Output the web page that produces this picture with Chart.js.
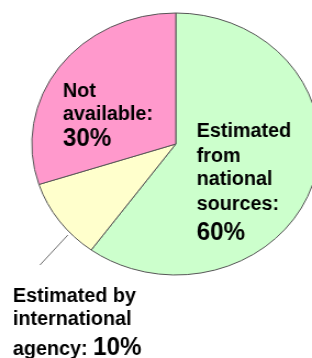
<!DOCTYPE html>
<html>
<head>
<meta charset="utf-8">
<script src="https://cdn.jsdelivr.net/npm/chart.js@4.4.0/dist/chart.umd.min.js"></script>
<style>
html, body { margin: 0; padding: 0; background: #fff; overflow: hidden; }
/* the original picture is stretched a little sideways, so the pie is an ellipse */
#wrap { width: 284px; height: 358px; transform: scaleX(1.0986); transform-origin: 0 0; }
</style>
</head>
<body>
<div id="wrap"><canvas id="pieChart" width="284" height="358"></canvas></div>
<script>
var categories = ['Estimated from national sources', 'Estimated by international agency', 'Not available'];
var shares = [60, 10, 30];
var sliceColors = ['#CCFFCC', '#FFFFCC', '#FF99CC'];
var labelLines = [
    ['Estimated', 'from', 'national', 'sources:'],
    ['Estimated by', 'international', 'agency: '],
    ['Not', 'available:']
];

// label anchors in units of the pie radius, from the pie centre
var labelPos = [
    { dx: 0.145, dy: -0.053, rows: [0, 25, 48, 73, 103], inline: false },
    { dx: -1.131, dy: 1.206, rows: [0, 23, 53], inline: true },
    { dx: -0.784, dy: -0.359, rows: [0, 23, 49], inline: false }
];
var leader = [-0.750, 0.695, -0.944, 0.924];

var textFont = 'bold 18px "Liberation Sans", Arial, sans-serif';
var pctFont = 'bold 22px "Liberation Sans", Arial, sans-serif';

// text in the original is a bit taller than it is wide
function tallText(ctx, t, x, y, sy) {
    ctx.save();
    ctx.translate(x, y);
    ctx.scale(1, sy);
    ctx.fillText(t, 0, 0);
    ctx.restore();
}

var sliceLabels = {
    id: 'sliceLabels',
    afterDatasetsDraw: function(chart) {
        var arc = chart.getDatasetMeta(0).data[0];
        var cx = arc.x, cy = arc.y, r = arc.outerRadius;
        var ctx = chart.ctx;
        ctx.save();

        ctx.strokeStyle = '#707070';
        ctx.lineWidth = 1;
        ctx.beginPath();
        ctx.moveTo(cx + leader[0] * r, cy + leader[1] * r);
        ctx.lineTo(cx + leader[2] * r, cy + leader[3] * r);
        ctx.stroke();

        ctx.fillStyle = '#000';
        ctx.textBaseline = 'alphabetic';
        ctx.textAlign = 'left';
        labelLines.forEach(function(lines, i) {
            var p = labelPos[i];
            var x = cx + p.dx * r, y = cy + p.dy * r;
            ctx.font = textFont;
            lines.forEach(function(t, j) {
                tallText(ctx, t, x, y + p.rows[j], 1.08);
            });
            var pct = shares[i] + '%';
            if (p.inline) {
                var last = lines.length - 1;
                var w = ctx.measureText(lines[last]).width;
                ctx.font = pctFont;
                tallText(ctx, pct, x + w, y + p.rows[last], 1.2);
            } else {
                ctx.font = pctFont;
                tallText(ctx, pct, x, y + p.rows[lines.length], 1.2);
            }
        });
        ctx.restore();
    }
};

var ctx = document.getElementById('pieChart').getContext('2d');
var myChart = new Chart(ctx, {
    type: 'pie',
    data: {
        labels: categories,
        datasets: [{
            data: shares,
            backgroundColor: sliceColors,
            borderColor: '#555555',
            borderWidth: 1,
            radius: 131,
            offset: 0,
            hoverOffset: 0,
            clip: false
        }]
    },
    options: {
        responsive: false,
        animation: false,
        events: [],
        layout: {
            padding: { left: 60, right: 24, top: 44, bottom: 114 }
        },
        plugins: {
            legend: { display: false },
            tooltip: { enabled: false }
        }
    },
    plugins: [sliceLabels]
});
</script>
</body>
</html>
